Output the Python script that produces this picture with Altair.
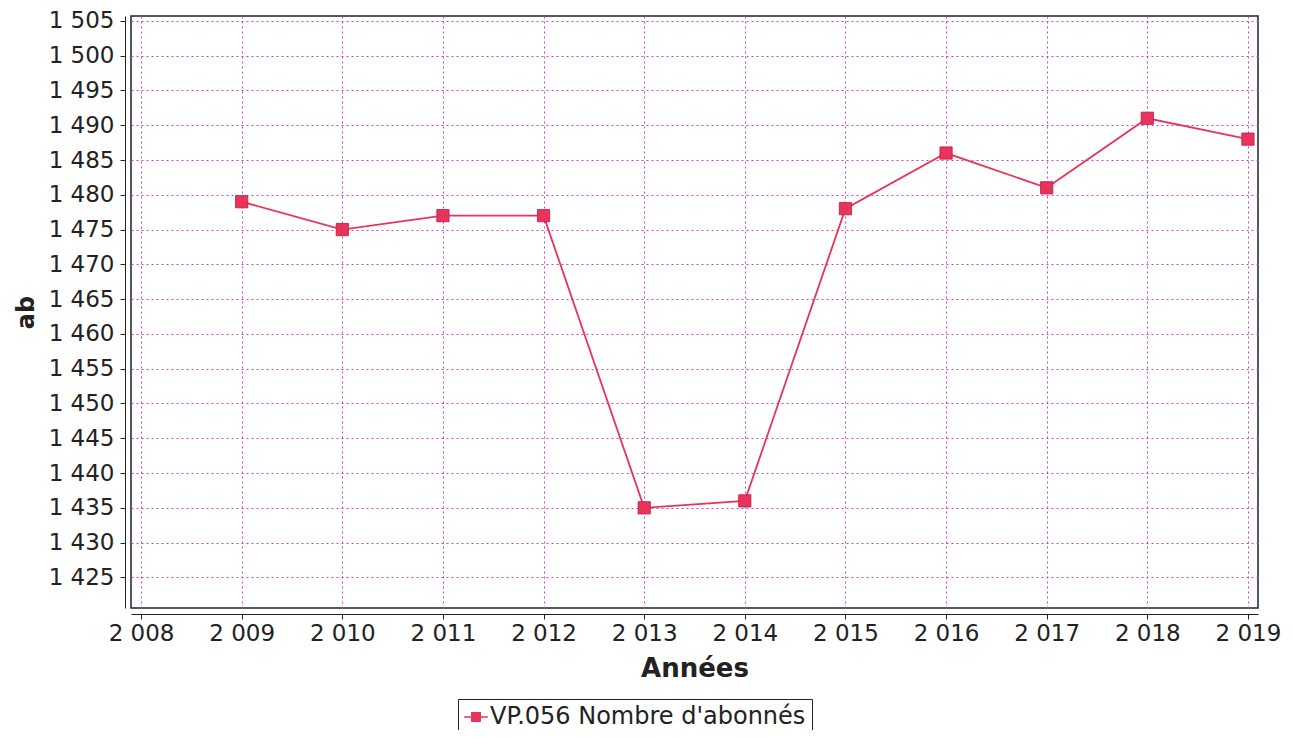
import altair as alt
import pandas as pd

years = [2009, 2010, 2011, 2012, 2013, 2014, 2015, 2016, 2017, 2018, 2019]
values = [1479, 1475, 1477, 1477, 1435, 1436, 1478, 1486, 1481, 1491, 1488]
series = "VP.056 Nombre d'abonnés"
x_ticks = list(range(2008, 2020))
y_ticks = list(range(1425, 1506, 5))

df = pd.DataFrame({"year": years, "value": values, "series": [series] * len(years)})

COL = "#e8335a"
FONT = "DejaVu Sans"
fmt = "replace(format(datum.value, ',d'), ',', ' ')"

x = alt.X(
    "year:Q",
    scale=alt.Scale(domain=[2007.9, 2019.1], nice=False, zero=False),
    axis=alt.Axis(
        title="Années", values=x_ticks, labelExpr=fmt, offset=6,
        grid=True, gridColor="#d040c8", gridDash=[2, 3], gridWidth=1,
        domainColor="#222", tickColor="#222", tickSize=5,
        labelFont=FONT, labelFontSize=23, labelColor="#222", labelPadding=3,
        titleFont=FONT, titleFontSize=26, titleFontWeight="bold", titleColor="#222",
        titlePadding=10,
    ),
)
y = alt.Y(
    "value:Q",
    scale=alt.Scale(domain=[1420.6, 1505.7], nice=False, zero=False),
    axis=alt.Axis(
        title="ab", values=y_ticks, labelExpr=fmt, offset=6,
        grid=True, gridColor="#d040c8", gridDash=[2, 3], gridWidth=1,
        domainColor="#222", tickColor="#222", tickSize=5,
        labelFont=FONT, labelFontSize=23, labelColor="#222", labelPadding=6,
        titleFont=FONT, titleFontSize=24, titleFontWeight="bold", titleColor="#222",
        titlePadding=10,
    ),
)
color = alt.Color(
    "series:N",
    scale=alt.Scale(range=[COL]),
    legend=alt.Legend(
        title=None, orient="none", legendX=327, legendY=683,
        symbolType="M-1,-0.07L1,-0.07L1,0.07L-1,0.07ZM-0.42,-0.42L0.42,-0.42L0.42,0.42L-0.42,0.42Z",
        symbolSize=560, symbolStrokeWidth=0, symbolFillColor=COL, symbolOpacity=1,
        labelFont=FONT, labelFontSize=24, labelColor="#222", labelLimit=600, labelOffset=2,
        strokeColor="#222", padding=6, fillColor="white",
    ),
)

base = alt.Chart(df).encode(x=x, y=y, color=color)
line = base.mark_line(strokeWidth=1.8, color=COL)
pts = base.mark_square(size=150, filled=True, opacity=1, color=COL, stroke="#c01840", strokeWidth=0.8)

chart = (
    alt.layer(line, pts)
    .properties(
        width=1127, height=592,
        autosize=alt.AutoSizeParams(type="none"),
        padding={"left": 123, "top": 8, "right": 27, "bottom": 122},
    )
    .configure_view(stroke="#222", strokeWidth=1.5)
)
chart.save("out.html", embed_options={"renderer": "svg", "actions": False})
